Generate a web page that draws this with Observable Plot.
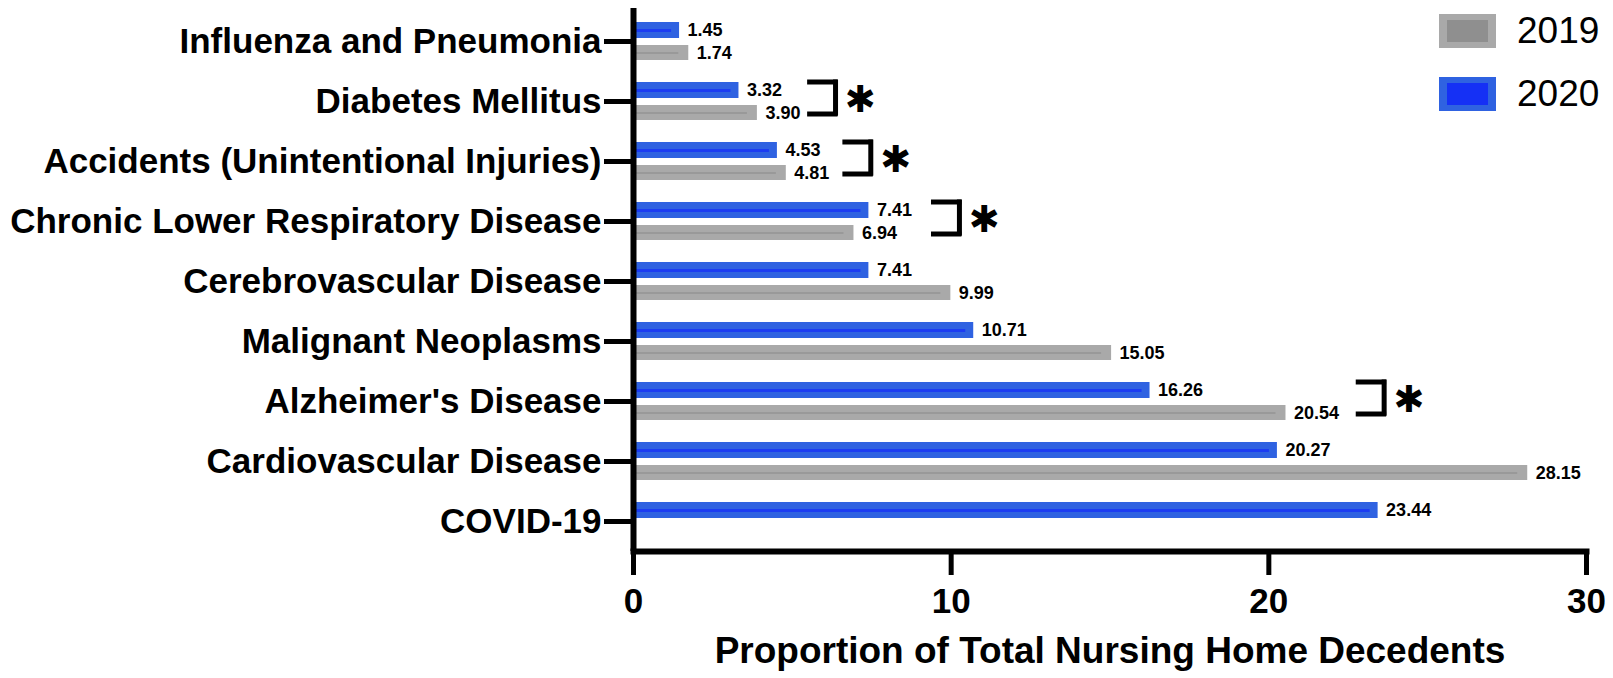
<!DOCTYPE html>
<html>
<head>
<meta charset="utf-8">
<script src="https://cdn.jsdelivr.net/npm/d3@7"></script>
<script src="https://cdn.jsdelivr.net/npm/@observablehq/plot@0.6"></script>
<style>
  html, body { margin: 0; padding: 0; background: #fff; }
  #wrap { position: relative; width: 1613px; height: 678px; font-family: "Liberation Sans", Arial, sans-serif; }
  .leg { position: absolute; left: 1439px; display: flex; align-items: center; }
  .sw { box-sizing: border-box; width: 57px; height: 34px; border-style: solid; border-width: 6px 8px; }
  .lt { font-size: 37px; margin-left: 21px; color: #000; }
</style>
</head>
<body>
<div id="wrap"></div>
<script>
// ---- data ----
const categories = [
  "Influenza and Pneumonia",
  "Diabetes Mellitus",
  "Accidents (Unintentional Injuries)",
  "Chronic Lower Respiratory Disease",
  "Cerebrovascular Disease",
  "Malignant Neoplasms",
  "Alzheimer's Disease",
  "Cardiovascular Disease",
  "COVID-19"
];
const values2020 = [1.45, 3.32, 4.53, 7.41, 7.41, 10.71, 16.26, 20.27, 23.44];
const values2019 = [1.74, 3.90, 4.81, 6.94, 9.99, 15.05, 20.54, 28.15, null];
const years = ["2019", "2020"];
const xTicks = [0, 10, 20, 30];
const axisTitle = "Proportion of Total Nursing Home Decedents";
// significance annotations (bracket left position in data units)
const sigCategories = ["Diabetes Mellitus", "Accidents (Unintentional Injuries)", "Chronic Lower Respiratory Disease", "Alzheimer's Disease"];
const sigBracketX = [5.56, 6.67, 9.46, 22.83];
const sigMark = "✱";

// ---- build tables ----
const r2020 = categories.map((c, i) => ({category: c, year: "2020", value: values2020[i]}));
const r2019 = categories.map((c, i) => ({category: c, year: "2019", value: values2019[i]})).filter(d => d.value != null);
const sig = sigCategories.map((c, i) => ({category: c, x: sigBracketX[i], x2: sigBracketX[i] + 0.8}));

const colors = {"2019": "#a9a9a9", "2020": "#2f62e1"};
const stripe = {"2019": "#999999", "2020": "#1c3cf2"};
const inner = {"2019": "#8f8f8f", "2020": "#1530f5"};

const chart = Plot.plot({
  width: 1613,
  height: 678,
  marginLeft: 633,
  marginRight: 27,
  marginTop: 8,
  marginBottom: 127,
  style: {fontFamily: "'Liberation Sans', Arial, sans-serif", background: "white", color: "black"},
  x: {domain: [0, 30]},
  y: {domain: categories, range: [8, 555], paddingInner: 0.366, paddingOuter: 0.183, align: 0.5},
  marks: [
    // bars 2020 (top) and 2019 (bottom)
    Plot.barX(r2020, {x: "value", y: "category", fill: colors["2020"], insetBottom: 22}),
    Plot.barX(r2019, {x: "value", y: "category", fill: colors["2019"], insetTop: 23}),
    Plot.ruleY(r2020, {y: "category", x1: 0, x2: "value", dy: -11, stroke: stripe["2020"], strokeWidth: 3, insetRight: 8}),
    Plot.ruleY(r2019, {y: "category", x1: 0, x2: "value", dy: 11.5, stroke: stripe["2019"], strokeWidth: 2, insetRight: 10}),
    // value labels
    Plot.text(r2020, {x: "value", y: "category", text: d => d.value.toFixed(2), dx: 8, dy: -11, textAnchor: "start", fontSize: 18, fontWeight: "bold", fill: "black"}),
    Plot.text(r2019, {x: "value", y: "category", text: d => d.value.toFixed(2), dx: 8, dy: 11.5, textAnchor: "start", fontSize: 18, fontWeight: "bold", fill: "black"}),
    // significance brackets
    Plot.ruleY(sig, {y: "category", x1: "x", x2: "x2", dy: -19.5, stroke: "black", strokeWidth: 5, strokeLinecap: "square"}),
    Plot.ruleY(sig, {y: "category", x1: "x", x2: "x2", dy: 12.5, stroke: "black", strokeWidth: 5, strokeLinecap: "square"}),
    Plot.ruleX(sig, {x: "x2", y1: "category", y2: "category", insetTop: 0, insetBottom: 6.8, stroke: "black", strokeWidth: 5, strokeLinecap: "square"}),
    Plot.text(sig, {x: "x", y: "category", text: () => sigMark, dx: 50, dy: -1, fontSize: 37, fontWeight: "bold", fontFamily: "DejaVu Sans", fill: "black"}),
    // axes
    Plot.axisY({tickSize: 29, tickPadding: 3, fontSize: 35, fontWeight: "bold", strokeWidth: 5, label: null}),
    Plot.axisX({ticks: xTicks, tickSize: 24, tickPadding: 13, fontSize: 35, fontWeight: "bold", strokeWidth: 5, label: null, tickFormat: d => String(d)}),
    Plot.ruleX([0], {stroke: "black", strokeWidth: 6}),
    Plot.frame({anchor: "bottom", stroke: "black", strokeWidth: 6, strokeLinecap: "square"}),
    Plot.text([axisTitle], {frameAnchor: "bottom", dy: 111, fontSize: 37, fontWeight: "bold", fill: "black"})
  ]
});

const wrap = document.getElementById("wrap");
wrap.appendChild(chart);

// legend (overlaid at top right)
const legendTops = {"2019": 10, "2020": 73};
years.forEach(y => {
  const item = document.createElement("div");
  item.className = "leg";
  item.style.top = legendTops[y] + "px";
  const sw = document.createElement("div");
  sw.className = "sw";
  sw.style.borderColor = colors[y];
  sw.style.background = inner[y];
  const lt = document.createElement("span");
  lt.className = "lt";
  lt.textContent = y;
  item.appendChild(sw);
  item.appendChild(lt);
  wrap.appendChild(item);
});
</script>
</body>
</html>
